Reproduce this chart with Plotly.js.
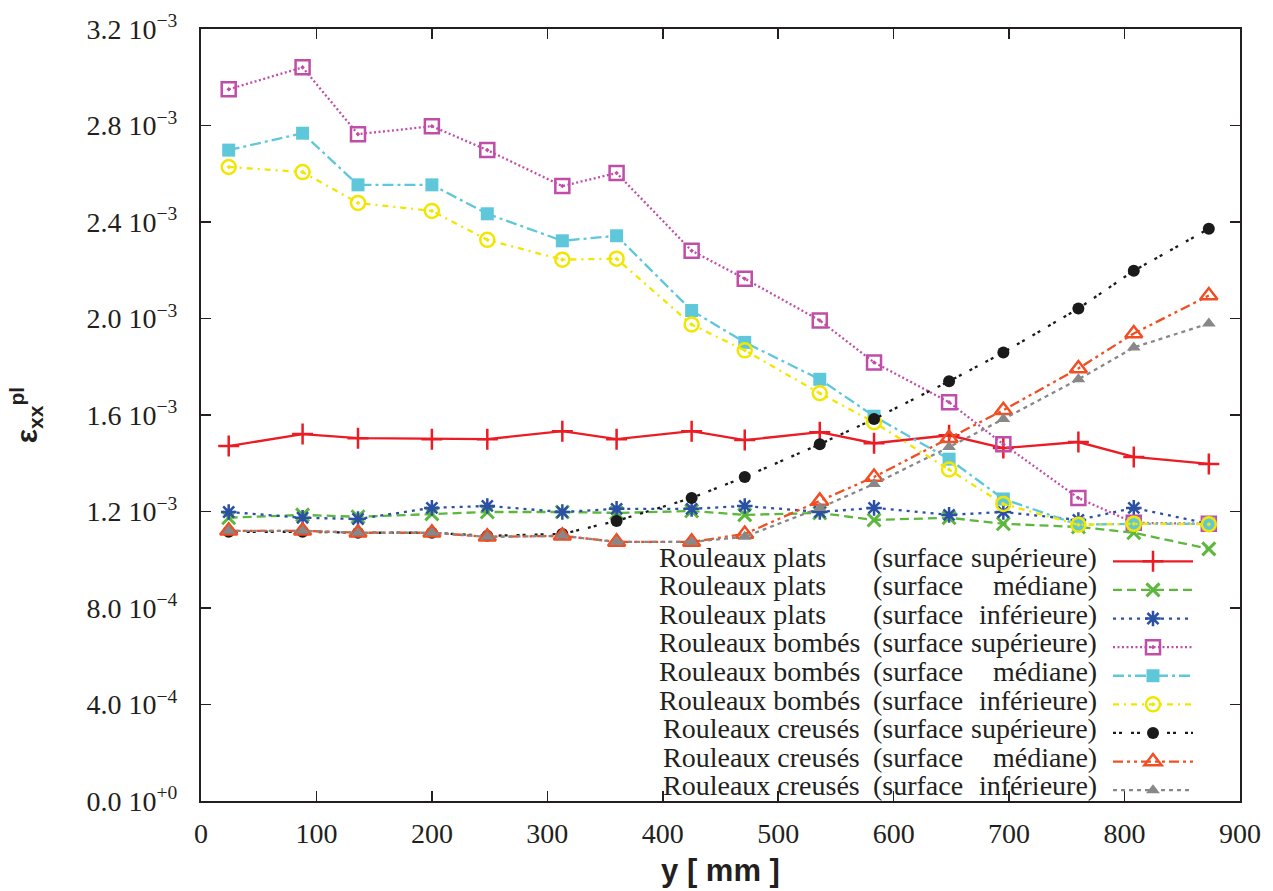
<!DOCTYPE html>
<html>
<head>
<meta charset="utf-8">
<script src="https://cdn.plot.ly/plotly-3.0.1.min.js"></script>
<style>html,body{margin:0;padding:0;background:#fff;}</style>
</head>
<body>
<div id="chart" style="width:1273px;height:891px;"></div>
<script>
// ---- data ----
const yPos = [24, 88, 136, 200, 248, 313, 360, 425, 471, 536, 583, 648, 695, 760, 808, 873];

const platsSup = [0.001471, 0.001521, 0.001504, 0.001500, 0.001500, 0.001533, 0.001500, 0.001533, 0.001496, 0.001529, 0.001483, 0.001516, 0.001463, 0.001488, 0.001426, 0.001397];
const platsMed = [0.001174, 0.001186, 0.001178, 0.001190, 0.001198, 0.001198, 0.001194, 0.001202, 0.001186, 0.001194, 0.001165, 0.001174, 0.001149, 0.001136, 0.001112, 0.001045];
const platsInf = [0.001198, 0.001174, 0.001169, 0.001215, 0.001223, 0.001198, 0.001211, 0.001211, 0.001223, 0.001198, 0.001215, 0.001186, 0.001198, 0.001165, 0.001215, 0.001149];

const bombesSup = [0.002950, 0.003041, 0.002764, 0.002797, 0.002698, 0.002549, 0.002603, 0.002281, 0.002165, 0.001992, 0.001818, 0.001653, 0.001479, 0.001256, 0.001153, 0.001149];
const bombesMed = [0.002698, 0.002768, 0.002554, 0.002554, 0.002434, 0.002322, 0.002343, 0.002033, 0.001901, 0.001748, 0.001595, 0.001417, 0.001252, 0.001145, 0.001149, 0.001149];
const bombesInf = [0.002628, 0.002607, 0.002479, 0.002446, 0.002326, 0.002244, 0.002248, 0.001975, 0.001868, 0.001690, 0.001570, 0.001374, 0.001231, 0.001145, 0.001149, 0.001147];

const creusesSup = [0.001116, 0.001116, 0.001112, 0.001112, 0.001099, 0.001107, 0.001161, 0.001256, 0.001343, 0.001479, 0.001583, 0.001740, 0.001859, 0.002041, 0.002198, 0.002372];
const creusesMed = [0.001120, 0.001120, 0.001112, 0.001112, 0.001095, 0.001099, 0.001074, 0.001074, 0.001107, 0.001244, 0.001343, 0.001504, 0.001620, 0.001793, 0.001938, 0.002095];
const creusesInf = [0.001120, 0.001120, 0.001112, 0.001112, 0.001095, 0.001099, 0.001074, 0.001074, 0.001095, 0.001215, 0.001314, 0.001467, 0.001583, 0.001748, 0.001880, 0.001979];

const rollTypes = ['Rouleaux plats', 'Rouleaux bombés', 'Rouleaux creusés'];
const surfaces = ['supérieure', 'médiane', 'inférieure'];

const xTickVals = [0, 100, 200, 300, 400, 500, 600, 700, 800, 900];
const yTickVals = [0, 0.0004, 0.0008, 0.0012, 0.0016, 0.0020, 0.0024, 0.0028, 0.0032];
const yTickText = ['0.0 10<sup>+0</sup>', '4.0 10<sup>−4</sup>', '8.0 10<sup>−4</sup>',
  '1.2 10<sup>−3</sup>', '1.6 10<sup>−3</sup>', '2.0 10<sup>−3</sup>',
  '2.4 10<sup>−3</sup>', '2.8 10<sup>−3</sup>', '3.2 10<sup>−3</sup>'];

const xTitle = 'y [ mm ]';
const yTitle = 'ε<sub>xx</sub><sup>pl</sup>';

// ---- styles ----
const SERIF = 'Liberation Serif';
const SANS = 'Liberation Sans';
const INK = '#231f20';

const series = [platsSup, platsMed, platsInf, bombesSup, bombesMed, bombesInf, creusesSup, creusesMed, creusesInf];
const styles = [
  {color:'#ec1c24', dash:'solid',              symbol:'cross-thin-open',  size:15, lw:2.5},
  {color:'#5cb83c', dash:'9px,5px',            symbol:'x-thin-open',      size:13, lw:3},
  {color:'#2b50a4', dash:'3px,5px',            symbol:'asterisk-open',    size:13, lw:2.5},
  {color:'#c04ea8', dash:'2px,2.5px',          symbol:'square-open-dot',  size:14, lw:2.5},
  {color:'#5ec8da', dash:'11px,4px,3px,4px',   symbol:'square',           size:13, lw:0},
  {color:'#f2e600', dash:'6px,5px,2px,5px',    symbol:'circle-open-dot',  size:14, lw:2.5},
  {color:'#1a1a1a', dash:'3px,3px,3px,9px',    symbol:'circle',           size:12, lw:0},
  {color:'#f04e23', dash:'10px,4px,3px,4px,3px,4px', symbol:'triangle-up-open', size:15, lw:2.5},
  {color:'#888888', dash:'4px,4px',            symbol:'triangle-up',      size:12, lw:0}
];

const traces = series.map((vals, i) => {
  const s = styles[i];
  return {
    type:'scatter', mode:'lines+markers',
    x: yPos, y: vals,
    name: '\u00a0',
    hovertext: rollTypes[Math.floor(i/3)] + ' (surface ' + surfaces[i%3] + ')',
    line:{color:s.color, width:2.3, dash:s.dash},
    marker:{symbol:s.symbol, size:s.size, color:s.color, line:{color:s.color, width:s.lw}}
  };
});

// ---- geometry in pixels (plot area: x 201..1240, y 29..801) ----
const L = 201, R = 1240, T = 29, B = 801;
const px2x = p => (p - L) / (R - L);
const px2y = p => (B - p) / (B - T);
const row0 = 557, rowStep = 28.6;

const annotations = [];
rollTypes.forEach((rt, g) => {
  surfaces.forEach((sf, k) => {
    const r = g*3 + k;
    const yy = px2y(row0 + r*rowStep);
    const fnt = {family:SERIF, size:28, color:INK};
    annotations.push({xref:'paper', yref:'paper', x:px2x(g === 2 ? 661 : 657), y:yy, xanchor:'left', yanchor:'middle', text:rt, showarrow:false, font:fnt});
    annotations.push({xref:'paper', yref:'paper', x:px2x(871), y:yy, xanchor:'left', yanchor:'middle', text:'(surface', showarrow:false, font:fnt});
    annotations.push({xref:'paper', yref:'paper', x:px2x(1099), y:yy, xanchor:'right', yanchor:'middle', text:sf + ')', showarrow:false, font:fnt});
  });
});

const axisCommon = {
  showline:true, mirror:'ticks', linecolor:INK, linewidth:2,
  ticks:'inside', ticklen:10, tickwidth:1.6, tickcolor:INK,
  showgrid:false, zeroline:false,
  tickfont:{family:SERIF, size:28, color:INK}
};

const layout = {
  width:1273, height:891,
  margin:{l:L, r:1273-R, t:T, b:891-B, pad:0},
  paper_bgcolor:'#ffffff', plot_bgcolor:'#ffffff',
  font:{family:SERIF, size:27, color:INK},
  xaxis:Object.assign({}, axisCommon, {
    range:[0, 900], tickmode:'array', tickvals:xTickVals,
    ticklabelstandoff:6,
    title:{text:xTitle, standoff:12, font:{family:SANS, size:31, weight:'bold', color:INK}}
  }),
  yaxis:Object.assign({}, axisCommon, {
    range:[0, 0.0032], tickmode:'array', tickvals:yTickVals, ticktext:yTickText,
    ticklabelstandoff:16,
    title:{text:yTitle, standoff:40, font:{family:SANS, size:30, weight:'bold', color:INK}}
  }),
  showlegend:true,
  legend:{
    x:px2x(1108), y:px2y(542), xanchor:'left', yanchor:'top',
    bgcolor:'rgba(0,0,0,0)', borderwidth:0,
    font:{family:SERIF, size:19.7, color:INK}, itemwidth:80, tracegroupgap:0,
    itemclick:false, itemdoubleclick:false
  },
  annotations:annotations
};

Plotly.newPlot('chart', traces, layout, {displayModeBar:false, staticPlot:true});
</script>
</body>
</html>
